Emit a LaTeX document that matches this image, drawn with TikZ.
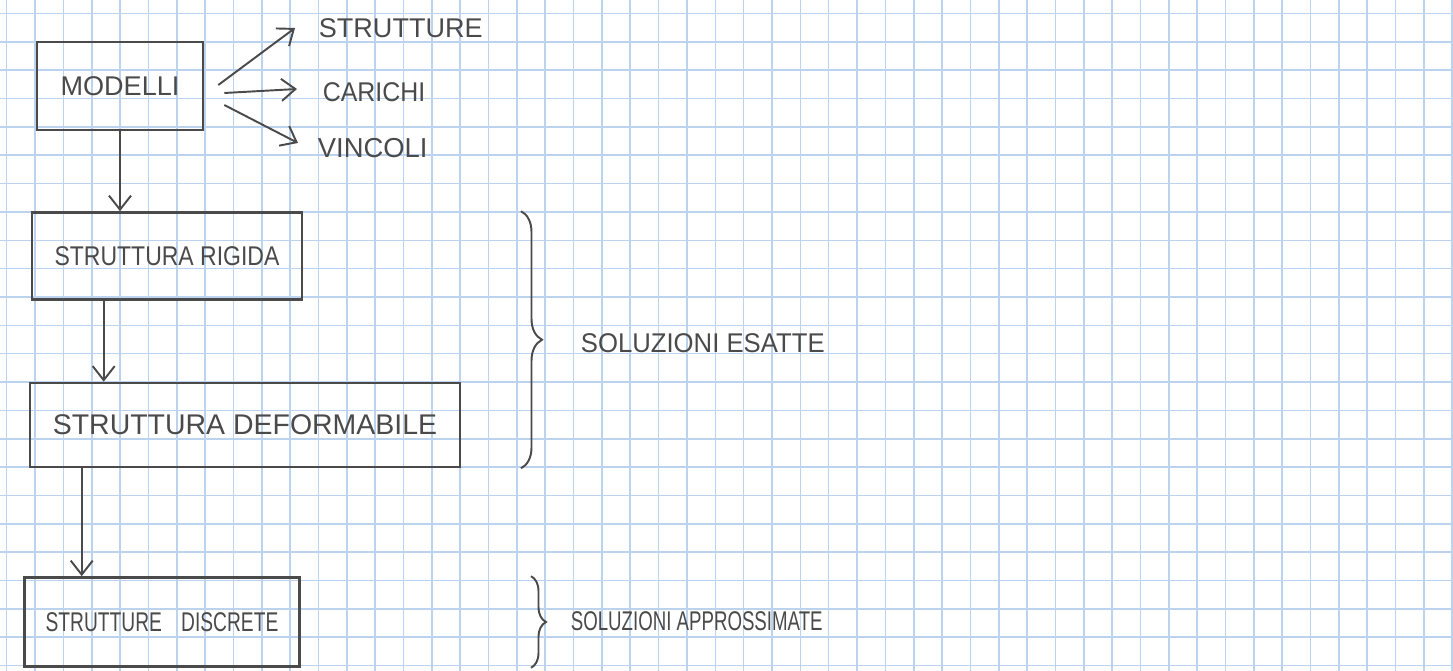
\documentclass[tikz,border=0pt]{standalone}
\usepackage{fontspec}
\setmainfont{Liberation Sans}
\usetikzlibrary{calc,arrows.meta,decorations.pathreplacing}
\definecolor{ink}{HTML}{4A4A4A}
\definecolor{gridblue}{RGB}{188,211,240}
\newcommand{\squeezed}[2]{\scalebox{#1}[1]{#2}}
\tikzset{
    txt/.style={font=\fontsize{#1}{#1}\selectfont},
    box/.style={rectangle, draw=ink, line width=1.5pt, text=ink},
    item/.style={text=ink, anchor=west, inner sep=2pt},
    edge/.style={draw=ink, line width=1.1pt, -{Straight Barb[length=2.8mm, width=4.4mm]}},
    bracket/.style={draw=ink, line width=1.1pt, decorate, decoration={brace, amplitude=#1}},
    bracket/.default=0.4cm,
    gridline/.style={draw=gridblue, line width=0.9pt}
}

\begin{document}
\begin{tikzpicture}[x=0.02cm, y=-0.02cm]
    \useasboundingbox (0,0) rectangle (1453,671);

    % squared paper
    \begin{scope}[shift={(0.134cm,-13.312cm)}, x=0.567cm, y=0.567cm]
        \draw[gridline, step=1] (-0.3,-0.2) grid (51.1,23.7);
    \end{scope}

    % Nodes
    \node[box, txt=15.4, minimum width=3.32cm, minimum height=1.76cm] (modelli) at (120,86) {MODELLI};
    \node[box, txt=15.4, minimum width=5.4cm, minimum height=1.74cm] (rigida) at (167,256) {\squeezed{0.85}{STRUTTURA RIGIDA}};
    \node[box, txt=16.2, minimum width=8.6cm, minimum height=1.68cm] (deform) at (245,425) {STRUTTURA DEFORMABILE};
    \node[box, txt=15.4, minimum width=5.5cm, minimum height=1.78cm] (discrete) at (162,622) {\squeezed{0.71}{STRUTTURE\hspace{1em}DISCRETE}};

    \node[item, txt=15.4] (strutture) at (315,28) {STRUTTURE};
    \node[item, txt=15.4] (carichi) at (319,92) {\squeezed{0.92}{CARICHI}};
    \node[item, txt=15.6] (vincoli) at (314,148) {VINCOLI};
    \node[item, txt=15.4] (esatte) at (577,343) {\squeezed{0.95}{SOLUZIONI ESATTE}};
    \node[item, txt=15.4] (approx) at (567,621) {\squeezed{0.69}{SOLUZIONI APPROSSIMATE}};

    % edges
    \draw[edge] ([xshift=0.28cm, yshift=0.02cm]modelli.east) -- ([xshift=-0.4cm]strutture.west);
    \draw[edge] ([xshift=0.4cm, yshift=-0.14cm]modelli.east) -- ([xshift=-0.44cm, yshift=0.06cm]carichi.west);
    \draw[edge] ([xshift=0.4cm, yshift=-0.38cm]modelli.east) -- ([xshift=-0.32cm, yshift=0.1cm]vincoli.west);

    \coordinate (r1) at ([xshift=1.46cm]rigida.south west);
    \coordinate (d1) at ([xshift=1.06cm]deform.south west);
    \draw[edge] (modelli.south) -- (modelli.south |- rigida.north);
    \draw[edge] (r1) -- (r1 |- deform.north);
    \draw[edge] (d1) -- (d1 |- discrete.north);

    % braces
    \draw[bracket=0.42cm] ([xshift=-1.12cm]rigida.north -| esatte.west) -- ([xshift=-1.12cm]deform.south -| esatte.west);
    \draw[bracket=0.3cm] ([xshift=-0.72cm]discrete.north -| approx.west) -- ([xshift=-0.72cm]discrete.south -| approx.west);
\end{tikzpicture}
\end{document}
